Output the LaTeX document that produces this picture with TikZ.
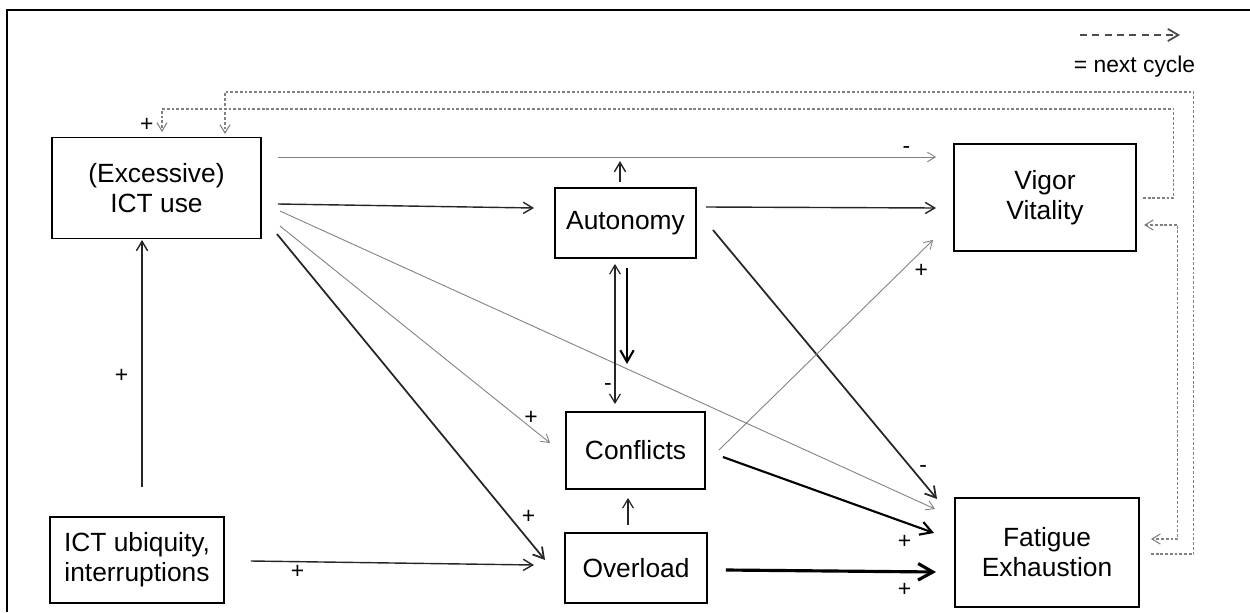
\documentclass[tikz,border=0pt]{standalone}
\usepackage{fontspec}
\setmainfont{Liberation Sans}
\usetikzlibrary{calc,arrows.meta}

\begin{document}
\begin{tikzpicture}[->, >={Straight Barb[length=3pt 3,width=4pt 3]}, x=0.02cm, y=-0.02cm,
    box/.style={draw, line width=1.1pt, align=center, inner sep=2pt, font=\fontsize{15}{17}\selectfont},
    sign/.style={inner sep=1.5pt, font=\fontsize{13}{13}\selectfont},
    thinarr/.style={draw=gray, line width=0.5pt},
    midarr/.style={draw=black!85, line width=0.8pt},
    thickarr/.style={line width=1.2pt},
    heavyarr/.style={line width=1.8pt},
    cyc/.style={draw=gray, line width=0.6pt, dash pattern=on 1.6pt off 1.1pt}]
      \useasboundingbox (0,0) rectangle (1250,612);
      \draw [-, line width=1pt] (1250,10) -- (7,10) -- (7,612);
      \node [box, minimum width=4.18cm, minimum height=2.02cm] (ict) at (156.5,188) {(Excessive)\\ICT use};
      \node [box, minimum width=2.82cm, minimum height=1.4cm] (auton) at (625.5,223) {Autonomy};
      \node [box, minimum width=3.64cm, minimum height=2.14cm] (vigor) at (1045,197.5) {Vigor\\Vitality};
      \node [box, minimum width=3.48cm, minimum height=1.72cm] (ubiq) at (137,560) {ICT ubiquity,\\interruptions};
      \node [box, minimum width=2.78cm, minimum height=1.54cm] (confl) at (635.5,450.5) {Conflicts};
      \node [box, minimum width=2.84cm, minimum height=1.4cm] (overl) at (636,568) {Overload};
      \node [box, minimum width=3.68cm, minimum height=2.18cm] (fatig) at (1047,552.5) {Fatigue\\Exhaustion};
      % legend
      \node [inner sep=0pt, font=\fontsize{13}{15}\selectfont] (nextc) at (1134.5,67) {= next cycle};
      \coordinate (legs) at (1080,35);
      \coordinate (lege) at (1180,35);
      \draw [draw=black!70, line width=1pt, dash pattern=on 4pt off 3pt] (legs) -- (lege);
      \path
      ($(ict.east)+(16,-31)$) edge [thinarr] node [sign, pos=.955, above] {-} ($(vigor.west)+(-17,-40.5)$)
      ($(ict.east)+(16,16)$) edge [midarr] ($(auton.west)+(-20,-15)$)
      ($(auton.north)+(-5.5,-5)$) edge [midarr] ($(auton.north)+(-5.5,-26)$)
      ($(auton.east)+(9,-16)$) edge [midarr] ($(vigor.west)+(-17,10.5)$)
      ($(auton.east)+(16,7)$) edge [midarr, line width=1pt] node [sign, pos=.89, right=2pt] {-} ($(fatig.west)+(-17,-53.5)$)
      ($(ict.east)+(18,23)$) edge [thinarr] ($(fatig.west)+(-19,-43.5)$)
      ($(ict.east)+(18,38)$) edge [thinarr] node [sign, pos=.93, above] {+} ($(confl.west)+(-15,-7.5)$)
      ($(ict.east)+(15,46)$) edge [midarr, line width=1pt] node [sign, pos=.9, above right] {+} ($(overl.west)+(-19,-8)$)
      ($(auton.south)+(-10.5,5)$) edge [midarr, <->, line width=0.7pt] node [sign, pos=.88, left] {-} ($(confl.north)+(-20.5,-7)$)
      ($(auton.south)+(1.5,9)$) edge [thickarr] ($(auton.south)+(1.5,105)$)
      ($(confl.east)+(13,-0.5)$) edge [thinarr] node [sign, pos=.9, below right] {+} ($(vigor.south west)+(-20,-12)$)
      ($(confl.east)+(17,6.5)$) edge [thickarr] node [sign, pos=.86, below=5pt] {+} ($(fatig.west)+(-20,-19.5)$)
      ($(overl.east)+(18,2)$) edge [heavyarr] node [sign, pos=.85, below=4pt] {+} ($(fatig.west)+(-18,19.5)$)
      ($(overl.north)+(-8,-7)$) edge [midarr, line width=0.7pt] ($(confl.south)+(-7.5,8)$)
      ($(ubiq.east)+(26,1)$) edge [midarr] node [sign, pos=.165, below] {+} ($(overl.west)+(-30,-3)$)
      ($(ubiq.north)+(5,-29)$) edge [midarr] node [sign, pos=.45, left=6pt] {+} ($(ict.south)+(-14.5,0.5)$)
      ;
      % next cycle
      \draw [cyc] ($(vigor.east)+(6,0.5)$) -- ++(31,0) -- ++(0,-89) -| node [sign, pos=.85, left=3pt, text=black] {+} ($(ict.north)+(5.5,-4.5)$);
      \draw [cyc] ($(fatig.east)+(11,1.5)$) -- ++(43,0) -- ++(0,-462) -| ($(ict.north)+(68.5,-2.5)$);
      \draw [cyc, <->] ($(vigor.east)+(7,27.5)$) -- ++(34,0) |- ($(fatig.east)+(11,-13.5)$);
  \end{tikzpicture}
\end{document}
